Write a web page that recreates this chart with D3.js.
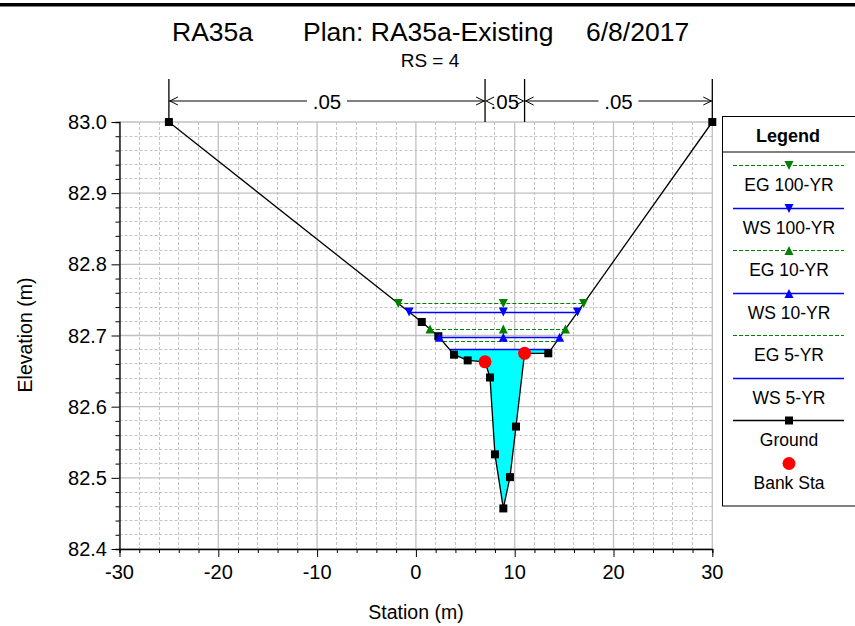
<!DOCTYPE html>
<html><head><meta charset="utf-8">
<script src="https://cdn.jsdelivr.net/npm/d3@7"></script>
<style>body{margin:0;background:#fff}svg{display:block;font-family:"Liberation Sans",Arial,sans-serif}</style>
</head><body><svg id="c" width="855" height="626"></svg>
<script>
// ---------- data ----------
const groundStation = [-25, 0.59, 2.27, 3.86, 5.24, 7, 7.5, 8.0, 8.85, 9.52, 10.13, 11, 13.4, 30];
const groundElev    = [83.0, 82.719, 82.699, 82.673, 82.665, 82.663, 82.641, 82.533, 82.457, 82.501, 82.572, 82.675, 82.675, 83.0];
const bankStations  = [7, 11];
const profileNames  = ["EG 100-YR", "WS 100-YR", "EG 10-YR", "WS 10-YR", "EG 5-YR", "WS 5-YR"];
const profileElev   = [82.745, 82.733, 82.709, 82.6975, 82.691, 82.680];
const profileKind   = ["EG", "WS", "EG", "WS", "EG", "WS"];
const profileMarker = ["down", "down", "up", "up", "none", "none"];
const nStations     = [-25, 7, 11, 30];
const nValues       = [".05", ".05", ".05"];
const xTicks        = [-30, -20, -10, 0, 10, 20, 30];
const yTicks        = [82.4, 82.5, 82.6, 82.7, 82.8, 82.9, 83.0];

// ---------- setup ----------
const svg = d3.select("#c");
const x = d3.scaleLinear().domain([-30, 30]).range([119.5, 712.3]);
const y = d3.scaleLinear().domain([82.4, 83.0]).range([549, 122]);
const green = "#008000", blue = "#0000ff";
const snap = v => Math.round(v - 0.5) + 0.5;

svg.append("rect").attr("x", 0).attr("y", 3).attr("width", 855).attr("height", 3.5).attr("fill", "#000");

// titles
svg.append("text").attr("x", 172).attr("y", 40.5).attr("font-size", 26.5).text("RA35a");
svg.append("text").attr("x", 303).attr("y", 40.5).attr("font-size", 26.5).text("Plan: RA35a-Existing");
svg.append("text").attr("x", 586).attr("y", 40.5).attr("font-size", 26.5).text("6/8/2017");
svg.append("text").attr("x", 430).attr("y", 67).attr("font-size", 19).attr("text-anchor", "middle").text("RS = 4");

// grid
const g = svg.append("g");
const minorX = d3.range(-30, 30.001, 2).filter(v => Math.abs(v % 10) > 1e-6);
const minorY = d3.range(0, 31).map(i => 82.4 + i * 0.02).filter(v => Math.abs(Math.round(v * 10) - v * 10) > 1e-6);
g.selectAll(".mx").data(minorX).join("line")
  .attr("x1", d => snap(x(d))).attr("x2", d => snap(x(d))).attr("y1", y(83)).attr("y2", y(82.4))
  .attr("stroke", "#c4c4c4").attr("stroke-dasharray", "3,2");
g.selectAll(".my").data(minorY).join("line")
  .attr("x1", x(-30)).attr("x2", x(30)).attr("y1", d => snap(y(d))).attr("y2", d => snap(y(d)))
  .attr("stroke", "#c4c4c4").attr("stroke-dasharray", "3,2");
g.selectAll(".Mx").data(xTicks).join("line")
  .attr("x1", d => x(d)).attr("x2", d => x(d)).attr("y1", y(83)).attr("y2", y(82.4))
  .attr("stroke", "#c0c0c0").attr("stroke-width", 1.3);
g.selectAll(".My").data(yTicks).join("line")
  .attr("x1", x(-30)).attr("x2", x(30)).attr("y1", d => y(d)).attr("y2", d => y(d))
  .attr("stroke", "#c0c0c0").attr("stroke-width", 1.3);

// axes
const xAxis = svg.append("g").attr("transform", `translate(0,${y(82.4)})`);
xAxis.call(d3.axisBottom(x).tickValues(d3.range(-30, 30.001, 2)).tickSize(4).tickFormat(""));
xAxis.call(g2 => g2.selectAll(".tick").filter(d => Math.abs(d % 10) < 1e-6).select("line").attr("y2", 8));
xAxis.selectAll(".tick text").remove();
xAxis.select(".domain").attr("stroke", "#000").attr("stroke-width", 1.3);
svg.append("g").selectAll("text").data(xTicks).join("text")
  .attr("x", d => x(d)).attr("y", 579).attr("text-anchor", "middle").attr("font-size", 20).text(d => d);

const yAxis = svg.append("g").attr("transform", `translate(${x(-30)},0)`);
yAxis.call(d3.axisLeft(y).tickValues(d3.range(0, 31).map(i => 82.4 + i * 0.02)).tickSize(4).tickFormat(""));
yAxis.call(g2 => g2.selectAll(".tick").filter(d => Math.abs(Math.round(d * 10) - d * 10) < 1e-6).select("line").attr("x2", -8));
yAxis.select(".domain").attr("stroke", "#000").attr("stroke-width", 1.3);
svg.append("g").selectAll("text").data(yTicks).join("text")
  .attr("x", 107).attr("y", d => y(d) + 7).attr("text-anchor", "end").attr("font-size", 20).text(d => d.toFixed(1));

svg.append("text").attr("x", 416).attr("y", 619).attr("text-anchor", "middle").attr("font-size", 19.5).text("Station (m)");
svg.append("text").attr("transform", "translate(32,335) rotate(-90)").attr("text-anchor", "middle").attr("font-size", 19.5).text("Elevation (m)");

// ---------- helpers ----------
const ground = groundStation.map((s, i) => ({s, e: groundElev[i]}));
function intersections(level) {
  const res = [];
  for (let i = 0; i < ground.length - 1; i++) {
    const a = ground[i], b = ground[i + 1];
    if ((a.e - level) * (b.e - level) < 0) {
      res.push(a.s + (level - a.e) / (b.e - a.e) * (b.s - a.s));
    }
  }
  return [res[0], res[res.length - 1]];
}
const invert = ground.reduce((m, p) => p.e < m.e ? p : m, ground[0]);

// water fill (lowest WS)
const wsLow = profileElev[5];
const [wl, wr] = intersections(wsLow);
const fillPts = [{s: wl, e: wsLow}].concat(ground.filter(p => p.s > wl && p.s < wr)).concat([{s: wr, e: wsLow}]);
svg.append("path").datum(fillPts)
  .attr("d", d3.line().x(d => x(d.s)).y(d => y(d.e)))
  .attr("fill", "#00ffff").attr("stroke", "none");

// profile lines
profileNames.forEach((n, i) => {
  const lev = profileElev[i];
  const [l, r] = intersections(lev);
  const col = profileKind[i] === "EG" ? green : blue;
  const yy = snap(y(lev));
  const ln = svg.append("line").attr("x1", x(l)).attr("x2", x(r)).attr("y1", yy).attr("y2", yy)
    .attr("stroke", col).attr("stroke-width", profileKind[i] === "EG" ? 1 : 1.5);
  if (profileKind[i] === "EG") ln.attr("stroke-dasharray", "4,2");
});

// ground
svg.append("path").datum(ground)
  .attr("d", d3.line().x(d => x(d.s)).y(d => y(d.e)))
  .attr("fill", "none").attr("stroke", "#000").attr("stroke-width", 1.3);
svg.append("g").selectAll("rect").data(ground).join("rect")
  .attr("x", d => x(d.s) - 4).attr("y", d => y(d.e) - 4).attr("width", 8).attr("height", 8).attr("fill", "#000");

// profile markers
function tri(cx, cy, dir, col, parent) {
  const h = 4.5, w = 4.5;
  const pts = dir === "down" ? [[cx - w, cy - h], [cx + w, cy - h], [cx, cy + h]] : [[cx - w, cy + h], [cx + w, cy + h], [cx, cy - h]];
  parent.append("path").attr("d", "M" + pts.map(p => p.join(",")).join("L") + "Z").attr("fill", col);
}
profileNames.forEach((n, i) => {
  if (profileMarker[i] === "none") return;
  const lev = profileElev[i];
  const [l, r] = intersections(lev);
  const col = profileKind[i] === "EG" ? green : blue;
  [l, invert.s, r].forEach(s => tri(x(s), y(lev), profileMarker[i], col, svg));
});

// bank stations
const bankPts = bankStations.map(s => ground.find(q => Math.abs(q.s - s) < 1e-6));
svg.append("g").selectAll("circle").data(bankPts).join("circle")
  .attr("cx", d => x(d.s)).attr("cy", d => y(d.e)).attr("r", 6.5).attr("fill", "#ff0000");

// Manning's n annotation
const ny = 101;
const na = svg.append("g").attr("stroke", "#000").attr("fill", "none");
nStations.forEach(s => na.append("line").attr("x1", x(s)).attr("x2", x(s)).attr("y1", 79).attr("y2", y(83)).attr("stroke-width", 1.3));
nValues.forEach((v, i) => {
  const a = x(nStations[i]), b = x(nStations[i + 1]), m = (a + b) / 2;
  const tw = 32;
  if (b - a > tw + 30) {
    na.append("line").attr("x1", a).attr("x2", m - tw / 2 - 4).attr("y1", ny).attr("y2", ny);
    na.append("line").attr("x1", m + tw / 2 + 4).attr("x2", b).attr("y1", ny).attr("y2", ny);
  }
  na.append("path").attr("d", `M${a + 9},${ny - 4}L${a + 1},${ny}L${a + 9},${ny + 4}`);
  na.append("path").attr("d", `M${b - 9},${ny - 4}L${b - 1},${ny}L${b - 9},${ny + 4}`);
  svg.append("text").attr("x", m).attr("y", 109).attr("text-anchor", "middle").attr("font-size", 20.5).text(v);
});

// legend
const lg = svg.append("g");
lg.append("rect").attr("x", 722.5).attr("y", 116.5).attr("width", 150).attr("height", 389.5).attr("fill", "#fff").attr("stroke", "#000");
lg.append("line").attr("x1", 722.5).attr("x2", 855).attr("y1", 152).attr("y2", 152).attr("stroke", "#000");
lg.append("text").attr("x", 788).attr("y", 142).attr("text-anchor", "middle").attr("font-size", 18).attr("font-weight", "bold").text("Legend");
const legNames = profileNames.concat(["Ground", "Bank Sta"]);
legNames.forEach((n, i) => {
  const ly = snap(165.5 + i * 42.5);
  if (i < 6) {
    const col = profileKind[i] === "EG" ? green : blue;
    const ln = lg.append("line").attr("x1", 733).attr("x2", 844).attr("y1", ly).attr("y2", ly).attr("stroke", col).attr("stroke-width", profileKind[i] === "EG" ? 1 : 1.5);
    if (profileKind[i] === "EG") ln.attr("stroke-dasharray", "4,2");
    if (profileMarker[i] !== "none") tri(789, ly, profileMarker[i], col, lg);
  } else if (i === 6) {
    lg.append("line").attr("x1", 733).attr("x2", 844).attr("y1", ly).attr("y2", ly).attr("stroke", "#000").attr("stroke-width", 1.3);
    lg.append("rect").attr("x", 785).attr("y", ly - 4).attr("width", 8).attr("height", 8).attr("fill", "#000");
  } else {
    lg.append("circle").attr("cx", 789).attr("cy", ly).attr("r", 6.5).attr("fill", "#ff0000");
  }
  lg.append("text").attr("x", 789).attr("y", ly + 25).attr("text-anchor", "middle").attr("font-size", 17.5).text(n);
});
</script></body></html>
